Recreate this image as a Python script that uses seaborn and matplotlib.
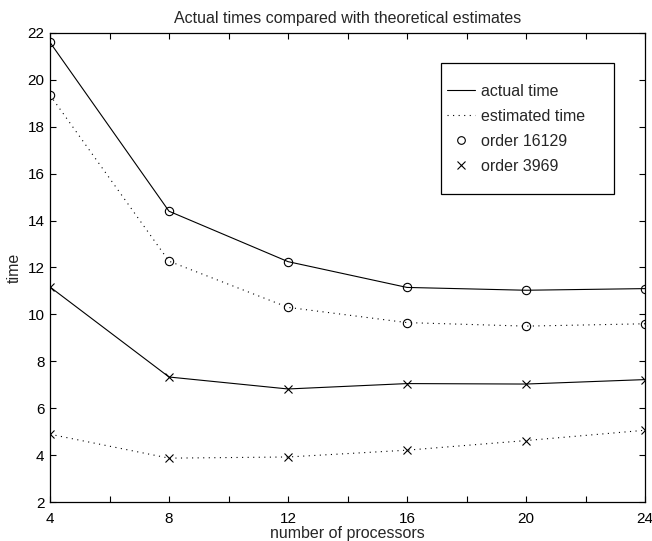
import numpy as np
import pandas as pd
import seaborn as sns
import matplotlib
matplotlib.use('Agg')
import matplotlib.pyplot as plt
from matplotlib.lines import Line2D
from matplotlib.patches import Rectangle
from matplotlib.ticker import MultipleLocator

processors = [4, 8, 12, 16, 20, 24]
actual_16129 = [21.6, 14.4, 12.25, 11.15, 11.03, 11.1]
estimated_16129 = [19.35, 12.27, 10.3, 9.65, 9.5, 9.6]
actual_3969 = [11.17, 7.33, 6.82, 7.05, 7.03, 7.22]
estimated_3969 = [4.89, 3.87, 3.92, 4.21, 4.62, 5.06]

sns.set_style('ticks', {'xtick.direction': 'in', 'ytick.direction': 'in'})
plt.rcParams['font.family'] = ['Liberation Sans', 'DejaVu Sans']

fig = plt.figure(figsize=(6.52, 5.41), dpi=100)
ax = fig.add_axes([50/652, 39/541, 595/652, 469/541])

dotted = (0, (1, 4))
series = [
    (actual_16129, '-', 'o'),
    (estimated_16129, dotted, 'o'),
    (actual_3969, '-', 'x'),
    (estimated_3969, dotted, 'x'),
]
for vals, ls, mk in series:
    d = pd.DataFrame({'processors': processors, 'time': vals})
    sns.lineplot(data=d, x='processors', y='time', ax=ax, color='black',
                 linestyle=ls, linewidth=0.8, marker=mk, markersize=6,
                 markerfacecolor='none', markeredgecolor='black',
                 markeredgewidth=0.8)

ax.set_xlim(4, 24)
ax.set_ylim(2, 22)
ax.xaxis.set_major_locator(MultipleLocator(4))
ax.xaxis.set_minor_locator(MultipleLocator(2))
ax.yaxis.set_major_locator(MultipleLocator(2))
ax.tick_params(which='both', direction='in', top=True, right=True,
               length=4, width=0.8, labelsize=11, colors='black')
ax.tick_params(axis='x', pad=7)
ax.tick_params(axis='y', pad=4)
for s in ax.spines.values():
    s.set_linewidth(0.9)
    s.set_color('black')

ax.set_title('Actual times compared with theoretical estimates', fontsize=11.5, pad=7)
ax.set_xlabel('number of processors', fontsize=11.5, labelpad=0.5)
ax.set_ylabel('time', fontsize=11.5, labelpad=4)

handles = [
    Line2D([], [], color='black', linestyle='-', linewidth=0.8),
    Line2D([], [], color='black', linestyle=dotted, linewidth=0.8),
    Line2D([], [], color='black', linestyle='none', marker='o', markersize=5.5,
           markerfacecolor='none', markeredgewidth=0.8),
    Line2D([], [], color='black', linestyle='none', marker='x', markersize=5.5,
           markeredgewidth=0.8),
]
labels = ['actual time', 'estimated time', 'order 16129', 'order 3969']
leg = ax.legend(handles, labels, loc='upper left',
                bbox_to_anchor=(447/652, 1 - 84/541), bbox_transform=fig.transFigure,
                frameon=False, fontsize=11.5,
                handlelength=1.75, handletextpad=0.4, labelspacing=0.62,
                borderpad=0, borderaxespad=0)
fig.add_artist(Rectangle((441/652, 1 - 194/541), 173/652, 131/541,
                         transform=fig.transFigure, fill=False,
                         edgecolor='black', linewidth=0.9))

fig.savefig('out.png', dpi=100)
